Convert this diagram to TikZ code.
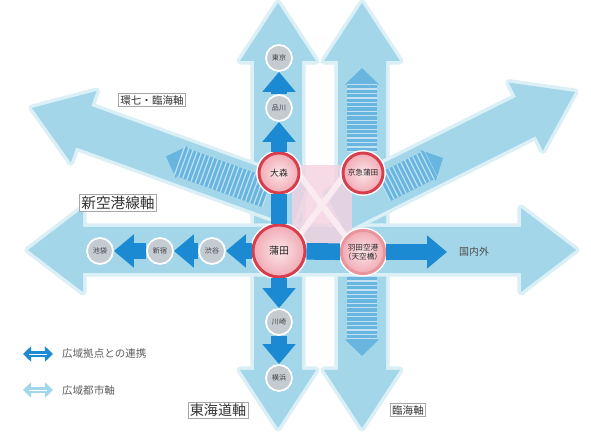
\documentclass[tikz,border=0pt]{standalone}
\usepackage{fontspec}
\setmainfont{Noto Sans CJK JP}
\usetikzlibrary{arrows.meta, calc, positioning}
\definecolor{skyaxis}{RGB}{162,214,232}
\definecolor{linkblue}{RGB}{28,138,210}
\definecolor{stripeblue}{RGB}{104,182,224}
\definecolor{hubred}{RGB}{214,62,78}
\definecolor{hubpink}{RGB}{241,170,180}
\definecolor{crosspink}{RGB}{244,210,224}
\definecolor{stgray}{RGB}{196,204,209}
\definecolor{legendgray}{RGB}{95,95,95}

\begin{document}
\begin{tikzpicture}[
    x=0.03cm, y=-0.03cm,
    axis/.style={fill=skyaxis, preaction={draw=skyaxis!40, line width=6pt, line join=round}},
    link/.style={draw=linkblue, line width=0.5cm, -{Triangle[width=0.96cm, length=0.6cm]}},
    plainlink/.style={draw=linkblue, line width=0.5cm},
    stripe/.style={draw=stripeblue, line width=0.9cm, -{Triangle[width=1.0cm, length=0.5cm]}},
    stripeline/.style={draw=white, draw opacity=0.6, line width=0.9cm, dash pattern=on 1pt off 2.8pt},
    hub/.style={circle, inner sep=0pt, draw=hubred, line width=2.5pt, inner color=hubpink!30!white, outer color=hubpink, preaction={draw=white, line width=5pt}, align=center, text=black!85},
    station/.style={circle, minimum size=0.78cm, inner sep=0pt, fill=stgray, draw=white, line width=1.5pt, text=black!75, font=\fontsize{6}{7}\selectfont},
    axislabel/.style={draw=gray!70, fill=white, inner sep=1.5pt, text=black!80}
]
    \useasboundingbox (0,0) rectangle (591,433);
    \fill[white] (0,0) rectangle (591,433);

    % Wide-area axes (light blue)
    \fill[axis] (278,3) -- (316,61) -- (302,61) -- (302,370) -- (316,370) -- (278,428)
        -- (240,370) -- (254,370) -- (254,61) -- (240,61) -- cycle;
    \fill[axis] (362,3) -- (400,61) -- (386,61) -- (386,370) -- (400,370) -- (362,428)
        -- (324,370) -- (338,370) -- (338,61) -- (324,61) -- cycle;
    \fill[axis] (28,250) -- (83,208) -- (83,227) -- (521,227) -- (521,208) -- (576,250)
        -- (521,292) -- (521,273) -- (83,273) -- (83,292) -- cycle;

    % Diagonal axes
    \coordinate (ulIn) at (300,205);
    \coordinate (ulTip) at (32,108);
    \coordinate (ulHead) at ($(ulTip)!1.65cm!(ulIn)$);
    \fill[axis] ($(ulIn)!0.66cm!90:(ulTip)$) -- ($(ulHead)!0.66cm!90:(ulTip)$) -- ($(ulHead)!1.14cm!90:(ulTip)$)
        -- (ulTip) -- ($(ulHead)!1.14cm!-90:(ulTip)$) -- ($(ulHead)!0.66cm!-90:(ulTip)$) -- ($(ulIn)!0.66cm!-90:(ulTip)$) -- cycle;
    \coordinate (urIn) at (335,212);
    \coordinate (urTip) at (575,92);
    \coordinate (urHead) at ($(urTip)!1.65cm!(urIn)$);
    \fill[axis] ($(urIn)!0.66cm!90:(urTip)$) -- ($(urHead)!0.66cm!90:(urTip)$) -- ($(urHead)!1.14cm!90:(urTip)$)
        -- (urTip) -- ($(urHead)!1.14cm!-90:(urTip)$) -- ($(urHead)!0.66cm!-90:(urTip)$) -- ($(urIn)!0.66cm!-90:(urTip)$) -- cycle;

    % Pink cross in the centre
    \fill[crosspink, opacity=0.8] (292,165) rectangle (352,245);
    \draw[white!55!crosspink, line width=5pt] (292,165) -- (352,245);
    \draw[white!55!crosspink, line width=5pt] (352,165) -- (292,245);

    % Striped axes
    \coordinate (ulStripeS) at ($(ulIn)!0.12!(ulTip)$);
    \coordinate (ulStripeE) at ($(ulIn)!0.5!(ulTip)$);
    \draw[stripe] (ulStripeS) -- (ulStripeE);
    \draw[stripeline] (ulStripeS) -- ($(ulStripeE)!0.4cm!(ulStripeS)$);
    \coordinate (urStripeS) at ($(urIn)!0.2!(urTip)$);
    \coordinate (urStripeE) at ($(urIn)!0.45!(urTip)$);
    \draw[stripe] (urStripeS) -- (urStripeE);
    \draw[stripeline] (urStripeS) -- ($(urStripeE)!0.4cm!(urStripeS)$);
    \coordinate (upStripeS) at (362,152);
    \coordinate (upStripeE) at (362,68);
    \draw[stripe] (upStripeS) -- (upStripeE);
    \draw[stripeline] (upStripeS) -- (362,84);
    \coordinate (downStripeS) at (362,276);
    \coordinate (downStripeE) at (362,356);
    \draw[stripe] (downStripeS) -- (downStripeE);
    \draw[stripeline] (downStripeS) -- (362,340);

    % Hubs
    \node[hub, minimum size=1.2cm, font=\fontsize{7.5}{8}\selectfont] (omori) at (279,173) {大森};
    \node[hub, minimum size=1.2cm, font=\fontsize{6.5}{7}\selectfont] (keikyu) at (363,173) {京急蒲田};
    \node[hub, minimum size=1.56cm, font=\fontsize{8.5}{9}\selectfont] (kamata) at (279,251) {蒲田};
    \node[hub, minimum size=1.3cm, draw=hubred!55, font=\fontsize{6.5}{7.5}\selectfont] (haneda) at (363,252) {羽田空港\\（天空橋）};

    % Stations
    \node[station] (tokyo) at (279,58) {東京};
    \node[station] (shinagawa) at (279,108) {品川};
    \node[station] (kawasaki) at (279,322) {川崎};
    \node[station] (yokohama) at (279,378) {横浜};
    \node[station] (shibuya) at (212,251) {渋谷};
    \node[station] (shinjuku) at (160,251) {新宿};
    \node[station] (ikebukuro) at (100,251) {池袋};
    \coordinate (overseas) at (447,252);
    \node[font=\fontsize{8.5}{9}\selectfont, text=black!70, anchor=west] (overseasText) at (455,252) {国内外};

    % Links to wide-area hubs
    \draw[plainlink] (kamata) -- (omori);
    \draw[link] (omori) -- (shinagawa);
    \draw[link] (shinagawa) -- (tokyo);
    \draw[link] (kamata) -- (kawasaki);
    \draw[link] (kawasaki) -- (yokohama);
    \draw[link] (kamata) -- (shibuya);
    \draw[link] (shibuya) -- (shinjuku);
    \draw[link] (shinjuku) -- (ikebukuro);
    \draw[plainlink] (kamata) -- (haneda);
    \draw[link] (haneda) -- (overseas);

    % Axis labels
    \node[axislabel, font=\fontsize{9}{10}\selectfont] (kannanaAxis) at (152,100) {環七・臨海軸};
    \node[axislabel, font=\fontsize{12.5}{14}\selectfont] (shinkukoAxis) at (118,203) {新空港線軸};
    \node[axislabel, font=\fontsize{12}{14}\selectfont] (tokaidoAxis) at (218,410) {東海道軸};
    \node[axislabel, font=\fontsize{9}{10}\selectfont] (rinkaiAxis) at (408,410) {臨海軸};

    % Legend
    \coordinate (legLinkA) at (23,354);
    \coordinate (legLinkB) at (53,354);
    \draw[linkblue, line width=5pt, {Triangle[width=13pt, length=7pt]}-{Triangle[width=13pt, length=7pt]}] (legLinkA) -- (legLinkB);
    \draw[white, line width=0.8pt] ($(legLinkA)!0.2!(legLinkB)$) -- ($(legLinkA)!0.8!(legLinkB)$);
    \coordinate (legAxisA) at (23,390);
    \coordinate (legAxisB) at (53,390);
    \draw[skyaxis, line width=5pt, {Triangle[width=13pt, length=7pt]}-{Triangle[width=13pt, length=7pt]}] (legAxisA) -- (legAxisB);
    \draw[white, line width=0.8pt] ($(legAxisA)!0.2!(legAxisB)$) -- ($(legAxisA)!0.8!(legAxisB)$);
    \node[font=\fontsize{9}{10}\selectfont, text=legendgray, anchor=west] (legLinkText) at (58,354) {広域拠点との連携};
    \node[font=\fontsize{9}{10}\selectfont, text=legendgray, anchor=west] (legAxisText) at (58,390) {広域都市軸};
\end{tikzpicture}
\end{document}
